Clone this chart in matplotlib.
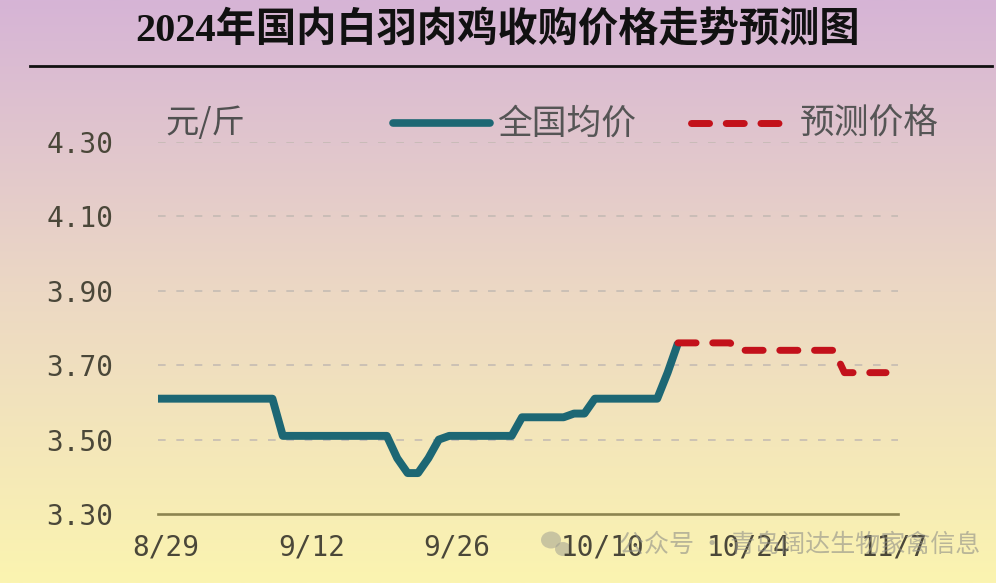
import numpy as np
import matplotlib
matplotlib.use('Agg')
from matplotlib import pyplot as plt
from matplotlib.lines import Line2D
from matplotlib.patches import Ellipse
from matplotlib.transforms import ScaledTranslation

plt.rcParams['font.family'] = ['Noto Sans CJK SC', 'DejaVu Sans']

# daily series, day 0 = 8/29
actual_days = list(range(0, 51))
actual_price = [3.61, 3.61, 3.61, 3.61, 3.61, 3.61, 3.61, 3.61, 3.61, 3.61,
                3.61, 3.61, 3.51, 3.51, 3.51, 3.51, 3.51, 3.51, 3.51, 3.51,
                3.51, 3.51, 3.51, 3.45, 3.41, 3.41, 3.45, 3.50, 3.51, 3.51,
                3.51, 3.51, 3.51, 3.51, 3.51, 3.56, 3.56, 3.56, 3.56, 3.56,
                3.57, 3.57, 3.61, 3.61, 3.61, 3.61, 3.61, 3.61, 3.61, 3.68,
                3.76]
forecast_days = list(range(50, 71))
forecast_price = [3.76, 3.76, 3.76, 3.76, 3.76, 3.76, 3.74, 3.74, 3.74, 3.74,
                  3.74, 3.74, 3.74, 3.74, 3.74, 3.74, 3.68, 3.68, 3.68, 3.68,
                  3.68]

tick_days = [0, 14, 28, 42, 56, 70]
tick_labels = ['8/29', '9/12', '9/26', '10/10', '10/24', '11/7']
y_ticks = [3.30, 3.50, 3.70, 3.90, 4.10, 4.30]

title = '2024年国内白羽肉鸡收购价格走势预测图'
unit = '元/斤'
name_actual = '全国均价'
name_forecast = '预测价格'
watermark = '公众号 · 青岛阔达生物家禽信息'

teal = '#1d6774'
red = '#c3111b'
W, H = 996, 583


def fp(x, y):
    # pixel position -> figure fraction
    return x / W, 1 - y / H


fig = plt.figure(figsize=(W / 100, H / 100), dpi=100)

# background gradient, lavender on top to pale yellow at bottom
bg = fig.add_axes([0, 0, 1, 1])
top = np.array([214, 180, 214]) / 255
mid = np.array([236, 216, 196]) / 255
bot = np.array([251, 244, 176]) / 255
t = np.linspace(0, 1, 300)[:, None]
grad = np.where(t < 0.5, top + (mid - top) * (t / 0.5), mid + (bot - mid) * ((t - 0.5) / 0.5))
bg.imshow(grad[:, None, :], aspect='auto', extent=[0, 1, 0, 1])
bg.axis('off')

ax = fig.add_axes([158 / W, (H - 514) / H, 740 / W, 372 / H])
ax.set_zorder(2)
ax.patch.set_alpha(0)
ax.set_xlim(0, 71.15)
ax.set_ylim(3.30, 4.30)

ax.plot(actual_days, actual_price, color=teal, lw=5.7,
        solid_joinstyle='round', solid_capstyle='butt', clip_on=False, zorder=3)
ax.plot(forecast_days, forecast_price, color=red, lw=5,
        linestyle=(0, (2.6, 2.4)), dash_capstyle='round', dash_joinstyle='round',
        clip_on=False, zorder=4)

for v in y_ticks[1:]:
    ax.axhline(v, color='#c2b9b2', lw=1.1, linestyle=(0, (5, 7)), zorder=1)

for s in ['top', 'right', 'left']:
    ax.spines[s].set_visible(False)
ax.spines['bottom'].set_color('#8c8450')
ax.spines['bottom'].set_linewidth(1.9)

ax.set_yticks(y_ticks)
ax.set_yticklabels(['%.2f' % v for v in y_ticks])
ax.set_xticks(tick_days)
ax.set_xticklabels(tick_labels)
ax.tick_params(axis='y', length=0, pad=32, labelsize=20, labelcolor='#4a4739')
ax.tick_params(axis='x', length=0, pad=14, labelsize=20, labelcolor='#4a4739')
for lbl in ax.get_yticklabels() + ax.get_xticklabels():
    lbl.set_family('DejaVu Sans Mono')
for lbl in ax.get_xticklabels():
    lbl.set_transform(lbl.get_transform() + ScaledTranslation(0.08, 0, fig.dpi_scale_trans))

# title and rule
fig.text(*fp(498, 31), title, ha='center', va='center', fontsize=29,
         fontweight='bold', color='#111111',
         family=['Liberation Serif', 'Noto Sans CJK SC'])
fig.add_artist(Line2D([30 / W, 992 / W], [1 - 66 / H, 1 - 66 / H],
                      color='#111111', lw=2))

# unit and legend
fig.text(*fp(165, 124), unit, ha='left', va='center', fontsize=24, color='#505050')
fig.add_artist(Line2D([393 / W, 490 / W], [1 - 123 / H, 1 - 123 / H],
                      color=teal, lw=5.5, solid_capstyle='round'))
fig.text(*fp(497, 124), name_actual, ha='left', va='center', fontsize=25, color='#555555')
fig.add_artist(Line2D([691 / W, 780 / W], [1 - 123 / H, 1 - 123 / H],
                      color=red, lw=5, linestyle=(0, (2.6, 2.4)),
                      dash_capstyle='round'))
fig.text(*fp(800, 124), name_forecast, ha='left', va='center', fontsize=25, color='#555555')

# watermark
fig.add_artist(Ellipse(fp(551, 540), 20 / W, 17 / H, color='#9a9a90', alpha=0.5, lw=0))
fig.add_artist(Ellipse(fp(563, 549), 16 / W, 14 / H, color='#9a9a90', alpha=0.5, lw=0))
fig.text(*fp(980, 545), watermark, ha='right', va='center', fontsize=18,
         color='#8f8f88', alpha=0.6)

fig.savefig('out.png', dpi=100)
